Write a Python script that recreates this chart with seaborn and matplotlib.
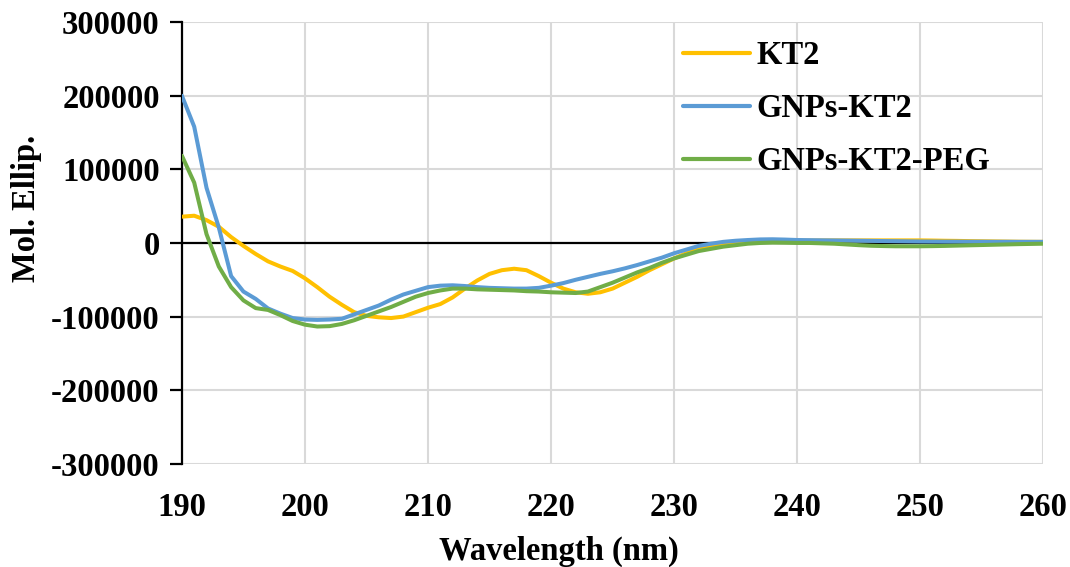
import numpy as np
import pandas as pd
import seaborn as sns
import matplotlib
matplotlib.use("Agg")
import matplotlib.pyplot as plt

# =============================
#  Données
# =============================
wavelength = list(range(190, 261))

kt2 = [35700, 37000, 31000, 22000, 8000, -4000, -15000, -25000, -32000, -38000,
       -48000, -60000, -73000, -84000, -94000, -99000, -101000, -102000, -100000, -94000,
       -88000, -83000, -74000, -62000, -51000, -42000, -37000, -35000, -37000, -45000,
       -54000, -62000, -67000, -69000, -67000, -62000, -54000, -46000, -37000, -29000,
       -21000, -14000, -8000, -4000, -1000, 0, 1000, 1500, 2000, 2500,
       3000, 3200, 3400, 3500, 3500, 3500, 3500, 3500, 3500, 3500,
       3500, 3300, 3000, 2800, 2500, 2300, 2100, 1900, 1700, 1600, 1500]

gnps_kt2 = [200000, 158000, 75000, 21000, -45000, -66000, -76000, -89000, -96000, -102000,
            -104000, -104500, -104000, -103000, -97000, -91000, -85000, -77000, -70000, -65000,
            -60000, -58000, -57500, -58500, -60000, -61000, -61500, -62000, -62000, -61000,
            -58000, -54500, -50000, -46000, -42000, -38500, -34500, -30000, -25000, -20000,
            -14000, -9000, -4000, -1000, 1500, 3000, 4000, 4800, 5000, 4600,
            4000, 3800, 3600, 3400, 3200, 3000, 2800, 2600, 2400, 2200,
            2000, 1900, 1800, 1800, 1700, 1700, 1600, 1600, 1500, 1500, 1500]

gnps_kt2_peg = [118500, 82000, 12000, -32000, -60000, -78000, -88500, -91000, -98000, -106000,
                -111000, -113500, -113000, -110000, -105000, -99000, -93000, -87000, -80000, -73000,
                -68000, -64500, -62000, -62000, -63000, -63500, -64000, -64500, -65500, -66000,
                -67000, -67500, -68000, -66000, -60000, -54000, -47000, -40000, -34000, -27000,
                -21000, -16000, -11000, -8000, -5000, -3000, -1000, 0, 500, 300,
                0, 0, -500, -1000, -2000, -3000, -3800, -4200, -4500, -4500,
                -4500, -4300, -4000, -3600, -3200, -2800, -2400, -2000, -1600, -1300, -1000]

series = ["KT2", "GNPs-KT2", "GNPs-KT2-PEG"]
colors = ["#FFC000", "#5B9BD5", "#70AD47"]

df = pd.DataFrame({
    "Wavelength": wavelength * 3,
    "Ellip": kt2 + gnps_kt2 + gnps_kt2_peg,
    "Echantillon": [s for s in series for _ in wavelength],
})

# =============================
#  Style
# =============================
sns.set_style("white")
plt.rcParams["font.family"] = ["Liberation Serif", "DejaVu Serif"]
plt.rcParams["font.weight"] = "bold"
plt.rcParams["axes.unicode_minus"] = False
plt.rcParams["text.color"] = "black"
plt.rcParams["xtick.color"] = "black"
plt.rcParams["ytick.color"] = "black"
plt.rcParams["axes.labelcolor"] = "black"

fs = 23.5

fig = plt.figure(figsize=(10.7, 5.67), dpi=100)
ax = fig.add_axes([0.170, 0.182, 0.805, 0.779])

sns.lineplot(data=df, x="Wavelength", y="Ellip", hue="Echantillon",
             palette=dict(zip(series, colors)), linewidth=2.9, ax=ax, zorder=3,
             solid_joinstyle="round", solid_capstyle="round")

ax.axhline(0, color="black", linewidth=1.6, zorder=2)
ax.set_xlim(190, 260)
ax.set_ylim(-300000, 300000)
ax.set_xticks(range(190, 261, 10))
ax.set_yticks(range(-300000, 300001, 100000))
ax.grid(True, color="#d9d9d9", linewidth=1.5, zorder=0)
ax.set_axisbelow(True)

for side in ["top", "right", "bottom"]:
    ax.spines[side].set_visible(False)
ax.spines["left"].set_color("black")
ax.spines["left"].set_linewidth(1.6)

ax.tick_params(axis="y", which="major", left=True, length=9, width=1.6, color="black",
               labelsize=fs, pad=7)
ax.tick_params(axis="x", which="major", bottom=False, labelsize=fs, pad=17)
for lab in ax.get_xticklabels() + ax.get_yticklabels():
    lab.set_fontweight("bold")

ax.set_xlabel("Wavelength (nm)", fontsize=fs, fontweight="bold")
ax.set_ylabel("Mol. Ellip.", fontsize=fs, fontweight="bold")
ax.xaxis.set_label_coords(0.438, -0.162)
ax.yaxis.set_label_coords(-0.162, 0.579)

handles, labels = ax.get_legend_handles_labels()
for h in handles:
    h.set_linewidth(3)
ax.legend(handles, labels, loc="upper left", bbox_to_anchor=(0.548, 1.025), frameon=False,
          prop={"size": fs, "weight": "bold"}, handlelength=2.05, handletextpad=0.2,
          labelspacing=0.67)

plt.savefig("out.png", dpi=100)
plt.close()
